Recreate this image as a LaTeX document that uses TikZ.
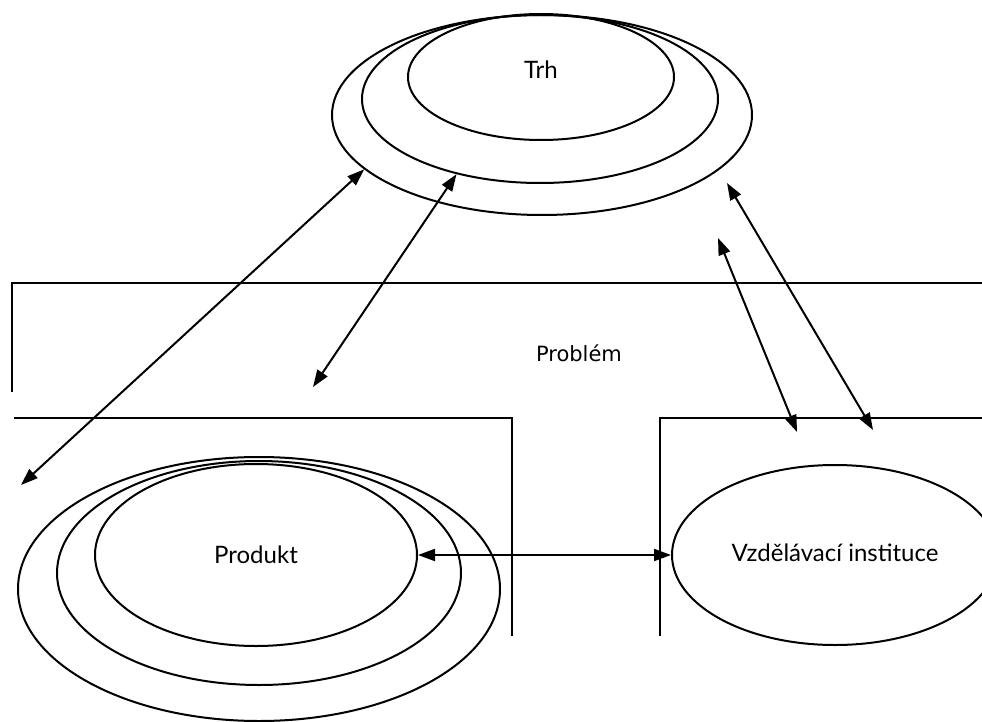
\documentclass[tikz,border=0pt]{standalone}
\usepackage{fontspec}
\setmainfont{Lato}
\newfontfamily\probfont{DejaVu Sans}
\usetikzlibrary{shapes.geometric,arrows.meta}

\begin{document}
\begin{tikzpicture}[x=1pt,y=-1pt,
  ring/.style={draw,ellipse,line width=2pt,inner sep=0pt},
  frame/.style={draw,line width=2pt},
  link/.style={line width=2pt,{Triangle[length=17pt,width=12pt]}-{Triangle[length=17pt,width=12pt]}},
  lbl/.style={font=\fontsize{24}{28}\selectfont,inner sep=0pt}
]
\useasboundingbox (0,0) rectangle (982,722);
\clip (0,0) rectangle (982,722);

% market: three nested rings touching at the top
\node[ring,minimum width=420pt,minimum height=200pt] (trhO) at (542,115) {};
\node[ring,minimum width=356pt,minimum height=168pt] (trhM) at (540,99) {};
\node[ring,minimum width=266pt,minimum height=126pt] (trhI) at (541,77) {};
\node[lbl] (trhT) at (541,70) {Trh};

% problem frame
\draw[frame] (12,392) -- (12,283) -- (990,283);
\draw[frame] (14,418) -- (512,418) -- (512,636);
\draw[frame] (660,636) -- (660,418) -- (990,418);
\node[lbl,font=\probfont\fontsize{21}{25}\selectfont] (probT) at (579,353) {Problém};

% product: three nested rings
\node[ring,minimum width=482pt,minimum height=264pt] (prodO) at (259,589) {};
\node[ring,minimum width=404pt,minimum height=224pt] (prodM) at (259,573) {};
\node[ring,minimum width=322pt,minimum height=182pt] (prodI) at (256,555) {};
\node[lbl] (prodT) at (256,555) {Produkt};

% educational institution
\node[ring,minimum width=326pt,minimum height=180pt] (vzd) at (835,555) {};
\node[lbl] (vzdT) at (835,553) {Vzdělávací instituce};

% free ends of the links
\coordinate (pl) at (21,485);
\coordinate (pm) at (313,387);
\coordinate (ra) at (727,183);
\coordinate (rb) at (873,430);
\coordinate (sa) at (718,238);
\coordinate (sb) at (797,432);

% links
\draw[link] (trhO.197) -- (pl);
\draw[link] (trhM.222) -- (pm);
\draw[link] (ra) -- (rb);
\draw[link] (sa) -- (sb);
\draw[link] (prodI.east) -- (vzd.west);
\end{tikzpicture}
\end{document}
